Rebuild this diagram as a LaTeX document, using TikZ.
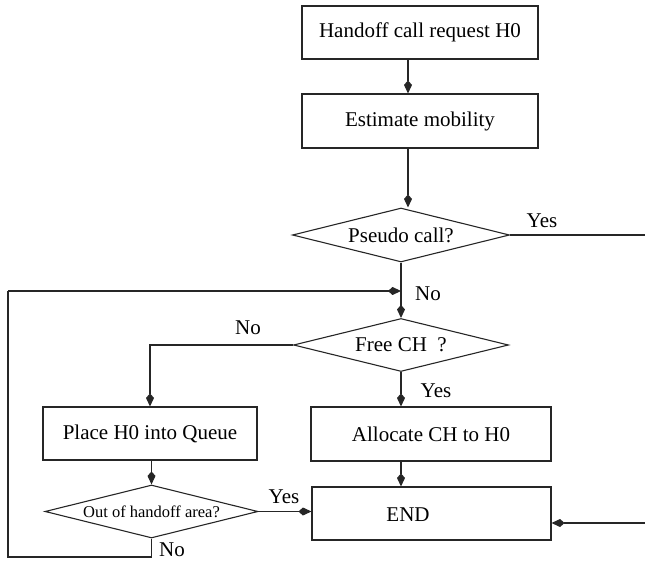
\documentclass[tikz,border=0pt]{standalone}
\usepackage{fontspec}
\setmainfont{Liberation Serif}
\usetikzlibrary{arrows.meta,shapes.geometric}
\begin{document}
\begin{tikzpicture}[x=1pt,y=-1pt,
  line width=1.1pt, draw=black!85,
  txt/.style={font=\fontsize{21}{24}\selectfont},
  box/.style 2 args={draw, rectangle, minimum width=#1, minimum height=#2, inner sep=0pt, txt},
  dia/.style 2 args={draw, diamond, aspect=4, inner sep=0pt, minimum width=#1, minimum height=#2, txt},
  arr/.style={-{Kite[length=13pt,width=8pt,inset=4.5pt]}},
  lbl/.style={txt, inner sep=0pt}]
\useasboundingbox (0,0) rectangle (645,561);
\node[box={236pt}{53pt}] (h0) at (420,32.5) {Handoff call request H0};
\node[box={236pt}{54pt}] (est) at (420,121) {Estimate mobility};
\node[dia={217pt}{54pt}] (ps) at (401,235) {Pseudo call?};
\node[dia={215pt}{53pt}] (fr) at (401,345) {Free CH\ \ ?};
\node[box={214pt}{53pt}] (pl) at (150,433.5) {Place H0 into Queue};
\node[box={240pt}{54pt}] (al) at (431,434) {Allocate CH to H0};
\node[dia={213pt}{53pt}, font=\fontsize{16.5}{19}\selectfont] (out) at (151.5,511.5) {Out of handoff area?};
\node[box={239pt}{53pt}] (end) at (431.5,513.5) {};
\node[lbl] (endt) at (408,515) {END};
\coordinate (j) at (401,291);
\coordinate (yr) at (645,235);
\coordinate (er) at (645,523);
\coordinate (bl) at (8,557);
\coordinate (tl) at (8,291);
\draw[arr] (h0.south -| 408,0) -- (est.north -| 408,0);
\draw[arr] (est.south -| 408,0) -- (ps.north -| 408,0);
\draw (ps.east) -- (yr);
\node[lbl] at (542,221) {Yes};
\draw (ps.south) -- (j);
\draw[arr] (j) -- (fr.north);
\node[lbl] at (428,294) {No};
\draw[arr] (fr.west) -| (pl.north);
\node[lbl] at (248,328) {No};
\draw[arr] (fr.south) -- (fr.south |- al.north);
\node[lbl] at (436,391) {Yes};
\draw[arr] (pl.south -| out.north) -- (out.north);
\draw[arr] (out.east) -- (out.east -| end.west);
\node[lbl] at (284,497) {Yes};
\draw[arr] (al.south -| 401,0) -- (end.north -| 401,0);
\draw[arr] (er) -- (er -| end.east);
\draw (out.south) -- (out.south |- bl) -- (bl) -- (tl);
\draw[arr] (tl) -- (j);
\node[lbl] at (172,550) {No};
\end{tikzpicture}
\end{document}
